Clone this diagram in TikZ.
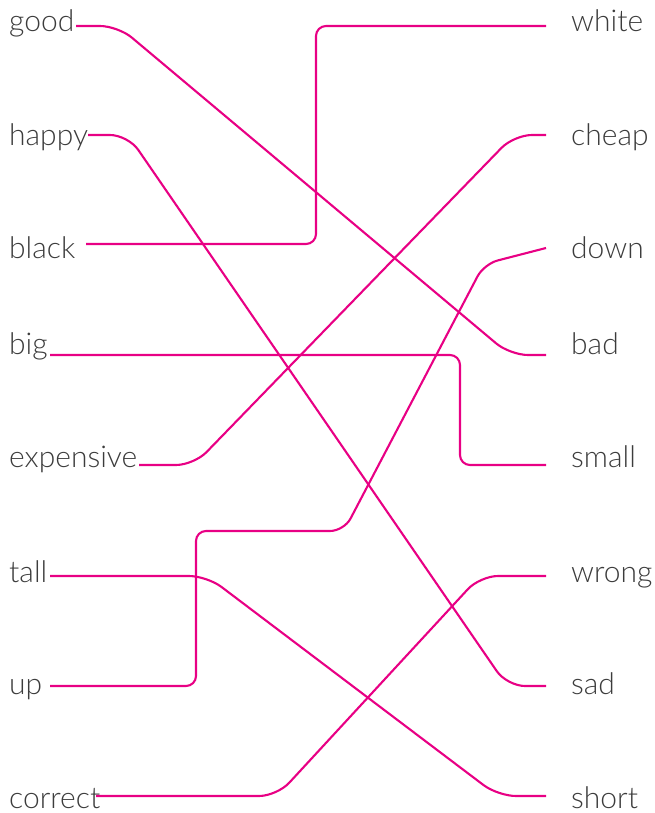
\documentclass[tikz,border=0pt]{standalone}
\usepackage{fontspec}
\newfontfamily\wordfont{Lato Light}
\definecolor{linkpink}{RGB}{232,0,132}
\definecolor{wordgray}{RGB}{60,60,60}

\begin{document}
\begin{tikzpicture}[
        x=1pt, y=-1pt,
        word/.style={font=\wordfont\fontsize{30}{32}\selectfont, text=wordgray, inner sep=0pt, anchor=base west},
        link/.style={draw=linkpink, line width=2.1pt, rounded corners=18pt},
        squarelink/.style={link, rounded corners=10pt}
    ]
        \useasboundingbox (0,0) rectangle (655,813);

        % left words
        \node[word] (good) at (9,32) {good};
        \node[word] (happy) at (9,146) {happy};
        \node[word] (black) at (9,258) {black};
        \node[word] (big) at (9,354) {big};
        \node[word] (expensive) at (9,467) {expensive};
        \node[word] (tall) at (9,582) {tall};
        \node[word] (up) at (9,694) {up};
        \node[word] (correct) at (9,808) {correct};

        % right words
        \node[word] (white) at (571,32) {white};
        \node[word] (cheap) at (571,146) {cheap};
        \node[word] (down) at (571,258) {down};
        \node[word] (bad) at (571,354) {bad};
        \node[word] (small) at (571,467) {small};
        \node[word] (wrong) at (571,582) {wrong};
        \node[word] (sad) at (571,694) {sad};
        \node[word] (short) at (571,808) {short};

        % line ends
        \coordinate (good-l) at (76,26);
        \coordinate (happy-l) at (88,135);
        \coordinate (black-l) at (86,244);
        \coordinate (big-l) at (50,355);
        \coordinate (expensive-l) at (139,465);
        \coordinate (tall-l) at (50,576);
        \coordinate (up-l) at (50,686);
        \coordinate (correct-l) at (96,796);
        \coordinate (white-r) at (546,26);
        \coordinate (cheap-r) at (546,135);
        \coordinate (down-r) at (546,248);
        \coordinate (bad-r) at (546,355);
        \coordinate (small-r) at (546,465);
        \coordinate (wrong-r) at (546,576);
        \coordinate (sad-r) at (546,686);
        \coordinate (short-r) at (546,796);

        % links
        \draw[link] (good-l) -- (118,26) -- (510,355) -- (bad-r);
        \draw[link] (happy-l) -- (128,135) -- (507,686) -- (sad-r);
        \draw[squarelink] (black-l) -- (316,244) -- (316,26) -- (white-r);
        \draw[squarelink] (big-l) -- (460,355) -- (460,465) -- (small-r);
        \draw[link] (expensive-l) -- (194,465) -- (514,135) -- (cheap-r);
        \draw[link] (tall-l) -- (207,576) -- (498,796) -- (short-r);
        \draw[squarelink] (up-l) -- (196,686) -- (196,531) [rounded corners=14pt] -- (344,531) -- (484,264) -- (down-r);
        \draw[link] (correct-l) -- (277,796) -- (480,576) -- (wrong-r);
    \end{tikzpicture}
\end{document}
